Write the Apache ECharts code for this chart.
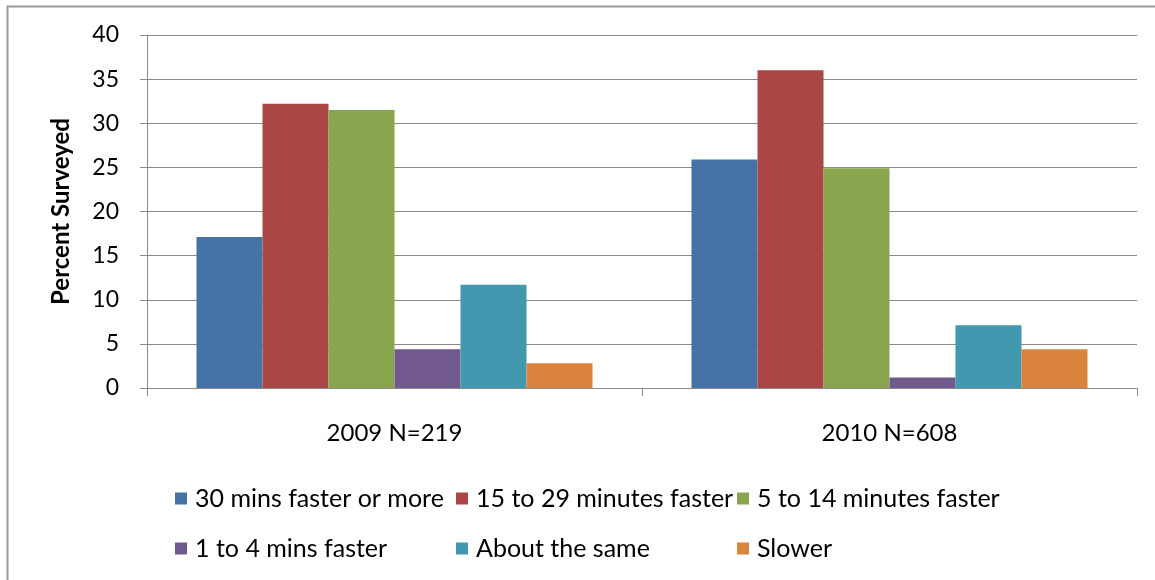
<!DOCTYPE html>
<html>
<head>
<meta charset="utf-8">
<script src="https://cdn.jsdelivr.net/npm/echarts@6/dist/echarts.min.js"></script>
<style>
  html, body { margin: 0; padding: 0; background: #fff; }
  #chart { width: 1155px; height: 580px; }
</style>
</head>
<body>
<div id="chart"></div>
<script>
// Survey groups shown along the x axis
var categories = ['2009 N=219', '2010 N=608'];

// Percent of respondents per answer, one array per answer
var seriesNames = [
  '30 mins faster or more',
  '15 to 29 minutes faster',
  '5 to 14 minutes faster',
  '1 to 4 mins faster',
  'About the same',
  'Slower'
];
var fasterThirtyPlus = [17.1, 25.9];
var fasterFifteenToTwentyNine = [32.2, 36.0];
var fasterFiveToFourteen = [31.5, 24.9];
var fasterOneToFour = [4.4, 1.2];
var aboutTheSame = [11.7, 7.1];
var slower = [2.8, 4.4];

var yTicks = [0, 5, 10, 15, 20, 25, 30, 35, 40];

var seriesValues = [
  fasterThirtyPlus,
  fasterFifteenToTwentyNine,
  fasterFiveToFourteen,
  fasterOneToFour,
  aboutTheSame,
  slower
];
var colors = ['#4572A7', '#AA4643', '#89A54E', '#71588F', '#4198AF', '#DB843D'];

var FONT = 'Lato, "Liberation Sans Narrow", "Open Sans", sans-serif';

// Legend entries laid out in two rows of three columns
var legendSpots = [
  { left: 175, top: 486 },
  { left: 456, top: 486 },
  { left: 737, top: 486 },
  { left: 175, top: 536 },
  { left: 456, top: 536 },
  { left: 737, top: 536 }
];

var legends = seriesNames.map(function (name, i) {
  return {
    data: [name],
    left: legendSpots[i].left,
    top: legendSpots[i].top,
    icon: 'rect',
    itemWidth: 12,
    itemHeight: 12,
    itemGap: 4,
    selectedMode: false,
    padding: 0,
    textStyle: { fontFamily: FONT, fontSize: 25, color: '#000', padding: [0, 0, 0, 3] }
  };
});

var series = seriesNames.map(function (name, i) {
  return {
    name: name,
    type: 'bar',
    data: seriesValues[i],
    barGap: '0%',
    barCategoryGap: '20%',
    itemStyle: { color: colors[i] }
  };
});

var chart = echarts.init(document.getElementById('chart'), null, { renderer: 'canvas' });
chart.setOption({
  animation: false,
  backgroundColor: '#fff',
  color: colors,
  graphic: [{
    type: 'rect',
    shape: { x: 7.5, y: 6.5, width: 1160, height: 590 },
    style: { fill: 'none', stroke: '#9a9a9a', lineWidth: 2 },
    silent: true
  }],
  legend: legends,
  grid: { left: 147, right: 18, top: 35, bottom: 192, containLabel: false },
  xAxis: {
    type: 'category',
    data: categories,
    axisLine: { lineStyle: { color: '#8a8a8a', width: 1 } },
    axisTick: { show: true, length: 8, lineStyle: { color: '#8a8a8a' } },
    axisLabel: { fontFamily: FONT, fontSize: 24, color: '#000', margin: 33 }
  },
  yAxis: {
    type: 'value',
    min: yTicks[0],
    max: yTicks[yTicks.length - 1],
    interval: 5,
    name: 'Percent Surveyed',
    nameLocation: 'middle',
    nameGap: 74,
    nameTextStyle: { fontFamily: FONT, fontSize: 24, fontWeight: 'bold', color: '#000' },
    axisLine: { show: true, lineStyle: { color: '#8a8a8a', width: 1 } },
    axisTick: { show: true, length: 7, inside: false, lineStyle: { color: '#8a8a8a' } },
    axisLabel: { fontFamily: FONT, fontSize: 23, color: '#000', margin: 28 },
    splitLine: { show: true, lineStyle: { color: '#8a8a8a', width: 1 } }
  },
  series: series
});
</script>
</body>
</html>
